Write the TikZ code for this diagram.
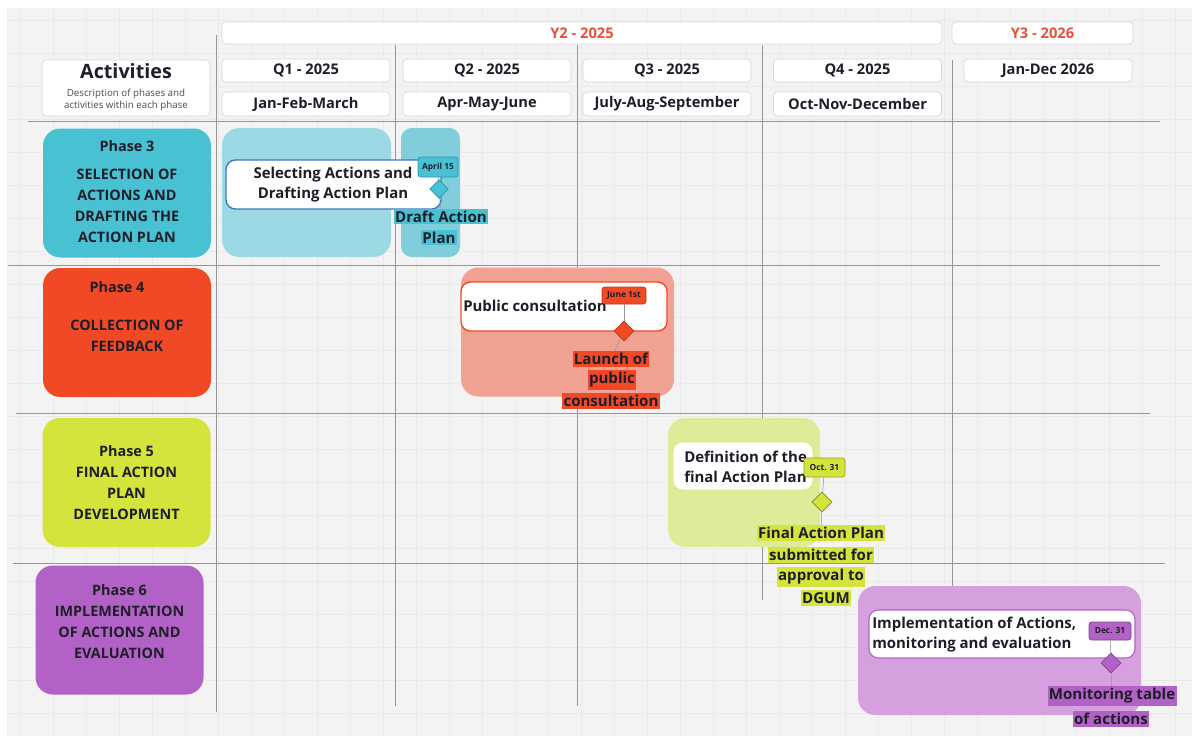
\documentclass[tikz,border=0pt]{standalone}
\usepackage{fontspec}
\setmainfont{Open Sans}
\usetikzlibrary{shapes.geometric}
\definecolor{bgc}{RGB}{243,243,243}
\definecolor{gridc}{RGB}{234,234,234}
\definecolor{linec}{RGB}{150,150,150}
\definecolor{hdrborder}{RGB}{215,215,215}
\definecolor{redtxt}{RGB}{232,80,60}
\definecolor{txt}{RGB}{30,30,40}
\definecolor{teal}{RGB}{72,193,211}
\definecolor{teallight}{RGB}{157,217,228}
\definecolor{tealmid}{RGB}{128,206,220}
\definecolor{tealdark}{RGB}{40,150,175}
\definecolor{bluebord}{RGB}{60,120,185}
\definecolor{redph}{RGB}{241,72,38}
\definecolor{salmon}{RGB}{242,162,147}
\definecolor{lime}{RGB}{212,228,60}
\definecolor{limelight}{RGB}{222,235,152}
\definecolor{purple}{RGB}{178,98,198}
\definecolor{purplelight}{RGB}{214,160,222}
\tikzset{
  hdr/.style={draw=hdrborder,fill=white,rounded corners=3pt,line width=0.5pt,inner sep=0pt,
    font=\bfseries\fontsize{11}{13}\selectfont,text=txt},
  phasebox/.style={rounded corners=13pt,inner sep=0pt,minimum width=126pt,minimum height=96.75pt},
  phasetxt/.style={font=\bfseries\fontsize{10.8}{15.75}\selectfont,text=txt,align=center,inner sep=0pt},
  barbox/.style={rounded corners=13pt,inner sep=0pt,minimum height=96.75pt},
  taskbox/.style={fill=white,rounded corners=7pt,inner sep=0pt,minimum height=36.75pt},
  tasktxt/.style={font=\bfseries\fontsize{11.2}{15}\selectfont,text=txt,inner sep=0pt},
  datelbl/.style={rounded corners=2pt,inner sep=0pt,font=\bfseries\fontsize{6.3}{7}\selectfont,text=txt,line width=0.5pt},
  mstone/.style={diamond,inner sep=0pt,minimum size=14pt,line width=0.5pt},
  hl/.style={inner xsep=1pt,inner ysep=1.5pt,font=\bfseries\fontsize{11.3}{13}\selectfont,text=txt},
  conn/.style={draw=linec,line width=0.4pt},
  mainline/.style={draw=linec,line width=0.6pt}
}
\begin{document}
\begin{tikzpicture}[x=0.75pt,y=-0.75pt]
\useasboundingbox (0,0) rectangle (1192,736);
\fill[white] (0,0) rectangle (1192,736);
\fill[bgc] (7,8) rectangle (1192,736);
\foreach \i in {0,...,35} {\draw[gridc,line width=0.4pt] ({20+33*\i},8) -- ({20+33*\i},736);}
\foreach \j in {0,...,22} {\draw[gridc,line width=0.4pt] (7,{20+33*\j}) -- (1192,{20+33*\j});}

% main grid lines
\draw[mainline] (216,35) -- (216,712);
\draw[mainline] (395,45) -- (395,706);
\draw[mainline] (577,45) -- (577,706);
\draw[mainline] (762,45) -- (762,600);
\draw[mainline] (952,60) -- (952,712);
\draw[mainline] (28,121) -- (1160,121);
\draw[mainline] (8,265) -- (1160,265);
\draw[mainline] (16,413) -- (1150,413);
\draw[mainline] (13,563) -- (1165,563);

% headers
\node[hdr,minimum width=540pt,minimum height=16.5pt,text=redtxt] (y2) at (582,33) {Y2 - 2025};
\node[hdr,minimum width=135.75pt,minimum height=16.5pt,text=redtxt] (y3) at (1042.5,33) {Y3 - 2026};
\node[hdr,minimum width=126pt,minimum height=17.25pt] (q1) at (306,70.5) {Q1 - 2025};
\node[hdr,minimum width=126pt,minimum height=17.25pt] (q2) at (487,70.5) {Q2 - 2025};
\node[hdr,minimum width=126pt,minimum height=17.25pt] (q3) at (667,70.5) {Q3 - 2025};
\node[hdr,minimum width=126pt,minimum height=17.25pt] (q4) at (857.5,70.5) {Q4 - 2025};
\node[hdr,minimum width=126pt,minimum height=17.25pt] (y26) at (1048,70.5) {Jan-Dec 2026};
\node[hdr,minimum width=126pt,minimum height=18pt] (m1) at (306,104) {Jan-Feb-March};
\node[hdr,minimum width=126pt,minimum height=18pt] (m2) at (487,104) {Apr-May-June};
\node[hdr,minimum width=126pt,minimum height=18pt] (m3) at (667,104) {July-Aug-September};
\node[hdr,minimum width=126pt,minimum height=18pt] (m4) at (857.5,104) {Oct-Nov-December};
\node[hdr,minimum width=126pt,minimum height=42pt] (act) at (126,88) {};
\node[font=\bfseries\fontsize{14.8}{17}\selectfont,text=txt,inner sep=0pt] (acttitle) at (126,71) {Activities};
\node[font=\fontsize{7.3}{9}\selectfont,text=txt!80,align=center,inner sep=0pt] (actdesc) at (126,100) {Description of phases and\\activities within each phase};

% phase boxes
\node[phasebox,fill=teal] (p3) at (127,193) {};
\node[phasetxt] (p3t) at (127,146) {Phase 3};
\node[phasetxt] (p3b) at (127,205.5) {SELECTION OF\\ACTIONS AND\\DRAFTING THE\\ACTION PLAN};
\node[phasebox,fill=redph] (p4) at (127,332.5) {};
\node[phasetxt] (p4t) at (117,287) {Phase 4};
\node[phasetxt] (p4b) at (127,335.5) {COLLECTION OF\\FEEDBACK};
\node[phasebox,fill=lime] (p5) at (126.5,482.5) {};
\node[phasetxt] (p5b) at (126.5,483) {Phase 5\\FINAL ACTION\\PLAN\\DEVELOPMENT};
\node[phasebox,fill=purple] (p6) at (119.5,630) {};
\node[phasetxt] (p6b) at (119.5,622) {Phase 6\\IMPLEMENTATION\\OF ACTIONS AND\\EVALUATION};

% Phase 3 bars
\node[barbox,fill=teallight,minimum width=126.75pt] (b3a) at (306.5,192.5) {};
\node[barbox,fill=tealmid,rounded corners=8pt,minimum width=44.25pt] (b3b) at (430.5,192.5) {};
\node[taskbox,draw=bluebord,line width=1pt,minimum width=161.25pt] (t3) at (333.5,184.5) {};
\node[tasktxt,align=center] (t3t) at (333,184.5) {Selecting Actions and\\Drafting Action Plan};
\node[datelbl,fill=teal,draw=tealdark,minimum width=30pt,minimum height=15pt] (d3) at (438,167) {April 15};
\node[mstone,fill=teal,draw=tealdark] (ms3) at (439,189) {};
\node[hl,fill=teal] (h3a) at (441,216.5) {Draft Action};
\node[hl,fill=teal] (h3b) at (439,237.5) {Plan};
\draw[conn] (d3) -- (ms3);
\draw[conn] (ms3) -- (h3a);

% Phase 4 bars
\node[barbox,fill=salmon,minimum width=159.75pt] (b4) at (567.5,332) {};
\node[taskbox,draw=redph,line width=1pt,minimum width=154.5pt] (t4) at (564,306.5) {};
\node[tasktxt,anchor=west] (t4t) at (463,306) {Public consultation};
\node[datelbl,fill=redph,draw=redph!80!black,minimum width=33pt,minimum height=12.75pt] (d4) at (624,295.5) {June 1st};
\node[mstone,fill=redph,draw=redph!80!black,minimum size=15pt] (ms4) at (624,331) {};
\node[hl,fill=redph] (h4a) at (611,359) {Launch of};
\node[hl,fill=redph] (h4b) at (612,380) {public};
\node[hl,fill=redph] (h4c) at (611,401) {consultation};
\draw[conn] (d4) -- (ms4);
\draw[conn] (ms4) -- (h4a);

% Phase 5 bars
\node[barbox,fill=limelight,minimum width=114pt] (b5) at (744,482.5) {};
\node[taskbox,draw=limelight!70!lime,line width=0.6pt,minimum width=105pt,minimum height=36pt] (t5) at (743,466) {};
\node[tasktxt,align=left,anchor=west] (t5t) at (684,467) {Definition of the\\final Action Plan};
\node[datelbl,fill=lime,draw=lime!70!black,minimum width=30.75pt,minimum height=14.25pt] (d5) at (824.5,467.5) {Oct. 31};
\node[mstone,fill=lime,draw=lime!60!black,minimum size=15pt] (ms5) at (822,502) {};
\node[hl,fill=lime] (h5a) at (821,533) {Final Action Plan};
\node[hl,fill=lime] (h5b) at (821,555) {submitted for};
\node[hl,fill=lime] (h5c) at (821,577) {approval to};
\node[hl,fill=lime] (h5d) at (826,598) {DGUM};
\draw[conn] (d5) -- (ms5);
\draw[conn] (ms5) -- (h5a);

% Phase 6 bars
\node[barbox,fill=purplelight,minimum width=212.25pt] (b6) at (999.5,650.5) {};
\node[taskbox,draw=purple,line width=0.8pt,minimum width=199.5pt,minimum height=36pt] (t6) at (1002,634) {};
\node[tasktxt,align=left,anchor=west] (t6t) at (872,635) {Implementation of Actions,\\monitoring and evaluation};
\node[datelbl,fill=purple,draw=purple!70!black,minimum width=31.5pt,minimum height=13.5pt] (d6) at (1110,631) {Dec. 31};
\node[mstone,fill=purple,draw=purple!70!black,minimum size=15pt] (ms6) at (1111,663) {};
\node[hl,fill=purple] (h6a) at (1112,696) {Monitoring table};
\node[hl,fill=purple] (h6b) at (1111,719) {of actions};
\draw[conn] (d6) -- (ms6);
\draw[conn] (ms6) -- (h6a);
\end{tikzpicture}
\end{document}
